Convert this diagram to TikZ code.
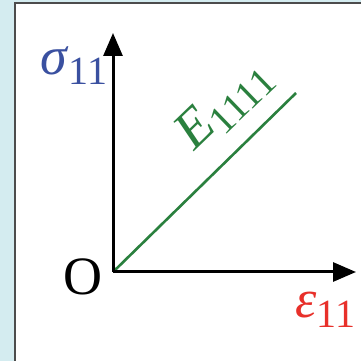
\documentclass[tikz,border=0pt]{standalone}
\usepackage{fontspec}
\setmainfont{Liberation Serif}
\usetikzlibrary{arrows.meta}
\definecolor{bgcyan}{RGB}{212,236,240}
\definecolor{sigblue}{RGB}{58,80,160}
\definecolor{epsred}{RGB}{232,48,42}
\definecolor{modgreen}{RGB}{42,128,62}
\newcommand{\bigfont}{\fontsize{54}{60}\selectfont}
\newcommand{\subs}[1]{\raisebox{-10pt}{\fontsize{40}{44}\selectfont #1}}
\begin{document}
\begin{tikzpicture}[x=1pt, y=1pt,
    axis/.style={line width=3pt, -{Triangle[length=23pt,width=19pt]}},
    lbl/.style={inner sep=0pt, font=\bigfont}]
    \useasboundingbox (0, 0) rectangle (361, 361);
    \fill[bgcyan] (0, 0) rectangle (361, 361);
    \draw[fill=white, draw=black!70, line width=2pt] (15, -10) rectangle (372, 358);
    \coordinate (O) at (113, 89);
    \coordinate (X) at (356, 89);
    \coordinate (Y) at (113, 328);
    \coordinate (E) at (296, 268);
    \draw[modgreen, line width=2.6pt] (O) -- (E);
    \draw[axis] (O) -- (X);
    \draw[axis] (O) -- (Y);
    \node[lbl, anchor=base west] (o) at (63, 66) {O};
    \node[lbl, anchor=base west, text=sigblue] (sig) at (40, 286) {\textit{σ}\subs{11}};
    \node[lbl, anchor=base west, text=epsred] (eps) at (295, 43) {\textit{ε}\subs{11}};
    \node[lbl, anchor=base west, text=modgreen, rotate=44] (mod) at (194, 209) {\textit{E}\subs{\kern-1pt 1111}};
\end{tikzpicture}
\end{document}
